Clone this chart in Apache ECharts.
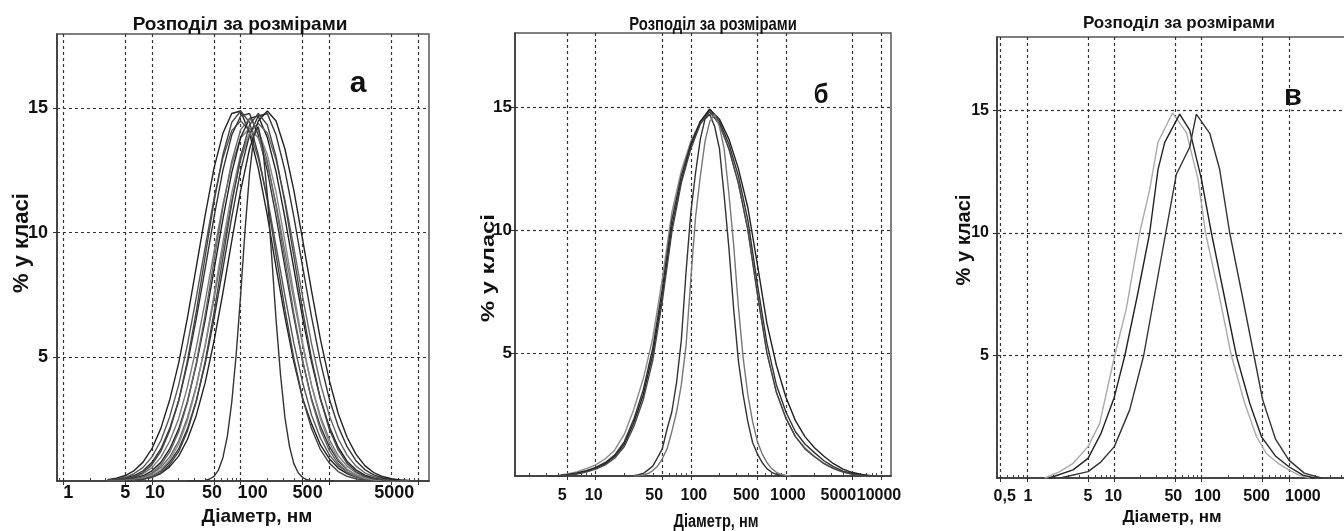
<!DOCTYPE html>
<html>
<head>
<meta charset="utf-8">
<script src="https://cdn.jsdelivr.net/npm/echarts@6/dist/echarts.min.js"></script>
<style>
  html, body { margin: 0; padding: 0; background: #fff; overflow: hidden; }
  #chart { width: 1400px; height: 531px; }
</style>
</head>
<body>
<div id="chart"></div>
<script>
// Size classes, nm (coarse grid used by the broad distributions)
const sizeClasses = [3.16, 3.98, 5.01, 6.31, 7.94, 10, 12.6, 15.8, 20, 25.1, 31.6, 39.8, 50.1, 63.1, 79.4,
  100, 126, 158, 200, 251, 316, 398, 501, 631, 794, 1000, 1259, 1585, 1995, 2512, 3162, 3981, 5012, 6310, 7943];
// Finer size classes, nm (narrow distributions)
const fineSizes = [25.1, 28.2, 31.6, 35.5, 39.8, 44.7, 50.1, 56.2, 63.1, 70.8, 79.4, 89.1, 100, 112, 126, 141,
  158, 178, 200, 224, 251, 282, 316, 355, 398, 447, 501, 562, 631, 708, 794, 891, 1000, 1122];

// Panel "а": % in class for each measurement
const a1 = [0.05,0.11,0.22,0.42,0.76,1.30,2.12,3.25,4.75,6.57,8.61,10.7,12.6,14.0,14.8,14.9,14.0,12.6,10.7,8.6,6.6,4.8,3.3,2.3,1.45,0.9,0.52,0.3,0.16,0.08,0.03,0,0,0,0];
const a2 = [0.03,0.07,0.15,0.30,0.55,0.97,1.62,2.57,3.86,5.48,7.38,9.41,11.37,13.01,14.11,14.5,14.11,13.0,11.4,9.45,7.45,5.55,3.95,2.65,1.72,1.05,0.62,0.35,0.19,0.09,0.04,0.02,0,0,0];
const a3 = [0.02,0.05,0.11,0.22,0.41,0.75,1.29,2.10,3.23,4.72,6.53,8.55,10.63,12.51,13.93,14.7,14.8,13.93,12.5,10.65,8.6,6.6,4.8,3.3,2.2,1.38,0.82,0.46,0.25,0.12,0.06,0.03,0,0,0];
const a4 = [0.01,0.03,0.07,0.15,0.29,0.54,0.95,1.59,2.51,3.78,5.37,7.23,9.22,11.13,12.74,13.82,14.2,13.82,12.74,11.15,9.25,7.3,5.45,3.85,2.6,1.68,1.02,0.6,0.33,0.18,0.09,0.04,0.02,0,0];
const a5 = [0.01,0.02,0.05,0.11,0.21,0.41,0.75,1.28,2.09,3.20,4.69,6.48,8.50,10.55,12.42,13.83,14.6,14.7,13.83,12.45,10.6,8.55,6.55,4.78,3.3,2.18,1.36,0.8,0.45,0.24,0.12,0.06,0.03,0.01,0];
const a6 = [0,0.01,0.03,0.07,0.15,0.29,0.55,0.96,1.61,2.55,3.83,5.44,7.33,9.35,11.29,12.92,14.01,14.4,14.01,12.92,11.3,9.4,7.4,5.52,3.92,2.64,1.7,1.04,0.6,0.33,0.18,0.09,0.04,0.02,0];
const a7 = [0,0.01,0.02,0.05,0.11,0.22,0.41,0.75,1.29,2.10,3.23,4.72,6.53,8.55,10.63,12.51,13.93,14.7,14.8,13.93,12.5,10.65,8.6,6.6,4.8,3.3,2.2,1.38,0.82,0.46,0.25,0.12,0.06,0.03,0.01];
const a8 = [0,0,0.01,0.03,0.07,0.15,0.30,0.57,1.0,1.67,2.64,3.96,5.63,7.58,9.67,11.68,13.37,14.5,14.9,14.5,13.37,11.7,9.7,7.65,5.7,4.05,2.72,1.76,1.08,0.62,0.34,0.18,0.09,0.04,0.02];
const a9 = [0.01,0.03,0.08,0.17,0.34,0.66,1.19,2.01,3.22,4.84,6.82,9.04,11.25,13.14,14.44,14.9,14.44,13.14,11.3,9.1,6.9,4.95,3.32,2.1,1.26,0.72,0.38,0.19,0.09,0.04,0.02,0,0,0,0];
const a10 = [0,0.01,0.03,0.07,0.16,0.33,0.64,1.16,1.97,3.15,4.75,6.69,8.86,11.02,12.88,14.15,14.6,14.15,12.88,11.05,8.9,6.75,4.85,3.25,2.05,1.23,0.7,0.37,0.18,0.09,0.04,0.02,0,0,0];
const a11 = [0,0.01,0.02,0.05,0.11,0.23,0.45,0.84,1.48,2.43,3.76,5.48,7.49,9.62,11.60,13.14,13.99,14.1,13.14,11.62,9.66,7.55,5.55,3.84,2.5,1.54,0.88,0.48,0.25,0.12,0.06,0.03,0.01,0,0];
const a12 = [0,0,0.01,0.03,0.08,0.16,0.34,0.65,1.18,2.0,3.2,4.81,6.78,8.98,11.17,13.05,14.34,14.8,14.34,13.05,11.2,9.05,6.85,4.92,3.3,2.08,1.25,0.71,0.38,0.19,0.09,0.04,0.02,0,0];
const aNarrow = [0,0,0,0,0.02,0.08,0.19,0.44,0.94,1.8,3.17,5.1,7.49,10.07,12.37,13.9,14.27,13.4,11.5,9.04,6.49,4.26,2.55,1.4,0.7,0.32,0.14,0.05,0.01,0,0,0,0,0];

// Panel "б"
const b1 = [0,0.02,0.08,0.17,0.3,0.45,0.7,1.05,1.7,2.7,3.95,5.6,8.0,10.7,12.4,13.6,14.4,14.8,14.3,13.3,11.9,10.0,7.4,5.0,3.4,2.35,1.6,1.15,0.8,0.52,0.32,0.17,0.08,0.02,0];
const b2 = [0,0,0.05,0.12,0.22,0.35,0.55,0.85,1.4,2.3,3.5,5.2,7.6,10.4,12.2,13.5,14.4,14.9,14.4,13.5,12.2,10.4,7.8,5.4,3.7,2.6,1.8,1.3,0.95,0.62,0.38,0.2,0.1,0.03,0];
const b3 = [0,0,0.04,0.1,0.2,0.32,0.5,0.8,1.3,2.15,3.3,4.95,7.3,10.1,12.0,13.4,14.4,14.9,14.5,13.7,12.5,10.9,8.6,6.2,4.5,3.2,2.25,1.6,1.15,0.8,0.5,0.28,0.14,0.06,0.01];
const b4 = [0,0,0.03,0.08,0.16,0.28,0.45,0.72,1.2,2.0,3.1,4.7,7.1,9.9,11.9,13.3,14.3,14.8,14.3,13.3,11.9,10.0,7.4,5.0,3.4,2.35,1.6,1.1,0.78,0.5,0.3,0.16,0.07,0.02,0];
const bNarrow1 = [0.01,0.05,0.1,0.25,0.4,0.75,1.1,1.9,2.6,3.8,5.5,8.3,10.7,12.3,13.7,14.5,14.7,14.2,13.3,11.4,9.3,6.8,4.7,3.3,2.2,1.35,0.9,0.55,0.3,0.15,0.07,0.02,0,0];
const bNarrow2 = [0,0.01,0.04,0.1,0.22,0.4,0.7,1.1,1.8,2.6,3.7,5.3,8.0,10.5,12.2,13.6,14.4,14.7,14.2,13.3,11.5,9.4,6.9,4.8,3.3,2.2,1.4,0.9,0.55,0.3,0.15,0.07,0.02,0];

// Panel "в": [diameter nm, % in class]
const cLight = [[1.6,0],[2.37,0.26],[3.37,0.6],[5,1.28],[6.8,2.23],[10.1,5.0],[13.7,6.9],[19.5,10.0],[25.5,11.8],[31.6,13.7],[46.4,14.9],[67,14.1],[91,12.2],[111,10.0],[160,7.4],[219,5.0],[312,3.05],[425,1.69],[552,1.0],[750,0.6],[1000,0.33],[1300,0.12],[1740,0]];
const cMid = [[1.8,0],[3.37,0.33],[5,0.8],[7,1.8],[10,3.3],[13.2,5.0],[18.5,7.5],[25.4,10.0],[31.7,12.6],[37.8,13.7],[56.1,14.85],[73,14.2],[99.5,12.2],[129.5,10.0],[180,7.5],[250,5.0],[356,3.05],[484,1.69],[700,0.9],[1000,0.46],[1450,0.12],[1980,0]];
const cRight = [[2.4,0],[5,0.26],[7,0.65],[10,1.28],[15,2.78],[21.7,5.0],[29,7.5],[38.8,10.0],[51.4,12.4],[73,13.5],[87,14.85],[124,14.07],[161,12.6],[210,10.0],[290,7.5],[398,5.0],[500,3.2],[700,1.6],[1000,0.73],[1500,0.2],[2350,0]];

// Axis ticks and labels
const gridTicksA = [1, 5, 10, 50, 100, 500, 1000, 5000, 10000];
const tickLabelsA = [1, 5, 10, 50, 100, 500, 5000];
const gridTicksB = [5, 10, 50, 100, 500, 1000, 5000, 10000];
const tickLabelsB = [5, 10, 50, 100, 500, 1000, 5000, 10000];
const gridTicksC = [0.5, 1, 5, 10, 50, 100, 500, 1000, 5000];
const tickLabelsC = [0.5, 1, 5, 10, 50, 100, 500, 1000];
const percentTicks = [5, 10, 15];
const titleText = 'Розподіл за розмірами';
const yName = '% у класі';
const xName = 'Діаметр, нм';

const FONT = '"Liberation Sans", Arial, sans-serif';

// minor log ticks (2..9 within each decade, except the labelled 5)
const minorTicks = [];
[0.1, 1, 10, 100, 1000, 10000].forEach(dec => {
  [2, 3, 4, 6, 7, 8, 9].forEach(m => minorTicks.push(+(m * dec).toPrecision(4)));
});

// per-panel layout; labelNudge = horizontal offset (px) of each size label from its grid line
const panels = [
  { grid: { left: 57, top: 34, width: 372, height: 447 }, min: 0.85, max: 13300,
    ticks: gridTicksA, labels: tickLabelsA, labelNudge: [5, 0, 3, -2, 12, 5, 3],
    xSize: 18, ySize: 18, xMargin: 3, yMargin: 9 },
  { grid: { left: 515, top: 33, width: 376, height: 443 }, min: 1.416, max: 12735,
    ticks: gridTicksB, labels: tickLabelsB, labelNudge: [-5, -2, -8, 3, -11, 2, -14, -2],
    xSize: 16, ySize: 17, xMargin: 12, yMargin: 3 },
  { grid: { left: 997, top: 37, width: 390, height: 441 }, min: 0.453, max: 13300,
    ticks: gridTicksC, labels: tickLabelsC, labelNudge: [4, 1, 0, -1, -2, 6, -6, 14],
    xSize: 16, ySize: 16, xMargin: 11, yMargin: 8 }
];

const gridLineStyle = { type: [3, 3], color: '#333', width: 1.2 };
const fmtNum = v => String(+(+v).toPrecision(6)).replace('.', ',');

const grids = [], xAxes = [], yAxes = [];
panels.forEach((p, i) => {
  const xFont = { fontFamily: FONT, fontSize: p.xSize, fontWeight: 'bold', color: '#111' };
  const yFont = { fontFamily: FONT, fontSize: p.ySize, fontWeight: 'bold', color: '#111' };
  const rich = {};
  p.labels.forEach((v, k) => {
    const dx = p.labelNudge[k];
    rich['n' + k] = Object.assign({ padding: dx >= 0 ? [0, 0, 0, 2 * dx] : [0, -2 * dx, 0, 0] }, xFont);
  });
  grids.push(Object.assign({ show: true, borderColor: '#555', borderWidth: 1.5, backgroundColor: 'transparent' }, p.grid));
  xAxes.push({
    type: 'log', logBase: 10, gridIndex: i, min: p.min, max: p.max,
    axisLine: { show: true, onZero: false, lineStyle: { color: '#333', width: 1.5 } },
    axisTick: { show: true, customValues: p.ticks, length: 4, lineStyle: { color: '#333' } },
    axisLabel: Object.assign({
      customValues: p.labels, margin: p.xMargin, rich,
      formatter: v => {
        const k = p.labels.findIndex(l => Math.abs(l - v) / l < 1e-6);
        return k < 0 ? fmtNum(v) : '{n' + k + '|' + fmtNum(v) + '}';
      }
    }, xFont),
    splitLine: { show: true, lineStyle: gridLineStyle },
    minorTick: { show: false }, minorSplitLine: { show: false }
  });
  xAxes.push({
    type: 'log', logBase: 10, gridIndex: i, min: p.min, max: p.max,
    axisLine: { show: false },
    axisTick: { show: true, customValues: minorTicks, length: 3, lineStyle: { color: '#444' } },
    axisLabel: { show: false },
    splitLine: { show: false }
  });
  yAxes.push({
    type: 'value', gridIndex: i, min: 0, max: 18, interval: 5,
    axisLine: { show: true, lineStyle: { color: '#333', width: 1.5 } },
    axisTick: { show: true, customValues: percentTicks, length: 4, lineStyle: { color: '#333' } },
    axisLabel: Object.assign({ customValues: percentTicks, margin: p.yMargin }, yFont),
    splitLine: { show: true, lineStyle: gridLineStyle }
  });
});

const zip = (xs, ys) => xs.map((x, k) => [x, ys[k]]);
const curves = [
  [0, zip(sizeClasses, a1), '#222'], [0, zip(sizeClasses, a2), '#555'], [0, zip(sizeClasses, a3), '#333'],
  [0, zip(sizeClasses, a4), '#777'], [0, zip(sizeClasses, a5), '#222'], [0, zip(sizeClasses, a6), '#666'],
  [0, zip(sizeClasses, a7), '#333'], [0, zip(sizeClasses, a8), '#222'], [0, zip(sizeClasses, a9), '#444'],
  [0, zip(sizeClasses, a10), '#666'], [0, zip(sizeClasses, a11), '#888'], [0, zip(sizeClasses, a12), '#444'],
  [0, zip(fineSizes, aNarrow), '#333'],
  [1, zip(sizeClasses, b1), '#8a8a8a'], [1, zip(sizeClasses, b2), '#333'], [1, zip(sizeClasses, b3), '#222'],
  [1, zip(sizeClasses, b4), '#444'], [1, zip(fineSizes, bNarrow1), '#333'], [1, zip(fineSizes, bNarrow2), '#777'],
  [2, cLight, '#aaaaaa'], [2, cMid, '#222'], [2, cRight, '#333']
];

const series = curves.map(([panel, data, color]) => ({
  type: 'line', xAxisIndex: panel * 2, yAxisIndex: panel, data,
  showSymbol: false, symbol: 'none', smooth: false, silent: true, clip: true,
  lineStyle: { color, width: 1.4 }
}));

const text = (x, y, str, font, opts) => Object.assign({
  type: 'text', x, y, silent: true,
  style: { text: str, font, fill: '#111', align: 'center', verticalAlign: 'middle' }
}, opts || {});
const UP = Math.PI / 2;

const labels = [
  text(240, 25, titleText, 'bold 19px ' + FONT),
  text(22, 243, yName, 'bold 22px ' + FONT, { rotation: UP }),
  text(257, 517, xName, 'bold 19px ' + FONT),
  text(358, 84, 'а', 'bold 30px ' + FONT),
  text(713, 25, titleText, 'bold 19px ' + FONT, { scaleX: 0.78 }),
  text(489, 268, yName, 'bold 19px ' + FONT, { rotation: UP, scaleX: 1.25 }),
  text(716, 522, xName, 'bold 18px ' + FONT, { scaleX: 0.81 }),
  text(821, 95, 'б', 'bold 28px ' + FONT, { scaleX: 0.85 }),
  text(1179, 23, titleText, 'bold 17px ' + FONT),
  text(964, 240, yName, 'bold 20px ' + FONT, { rotation: UP }),
  text(1172, 517, xName, 'bold 17px ' + FONT),
  text(1293, 97, 'в', 'bold 29px ' + FONT)
];

const chart = echarts.init(document.getElementById('chart'), null, { renderer: 'canvas' });
chart.setOption({
  animation: false,
  backgroundColor: '#fff',
  grid: grids,
  xAxis: xAxes,
  yAxis: yAxes,
  series,
  graphic: { elements: labels }
});
</script>
</body>
</html>
